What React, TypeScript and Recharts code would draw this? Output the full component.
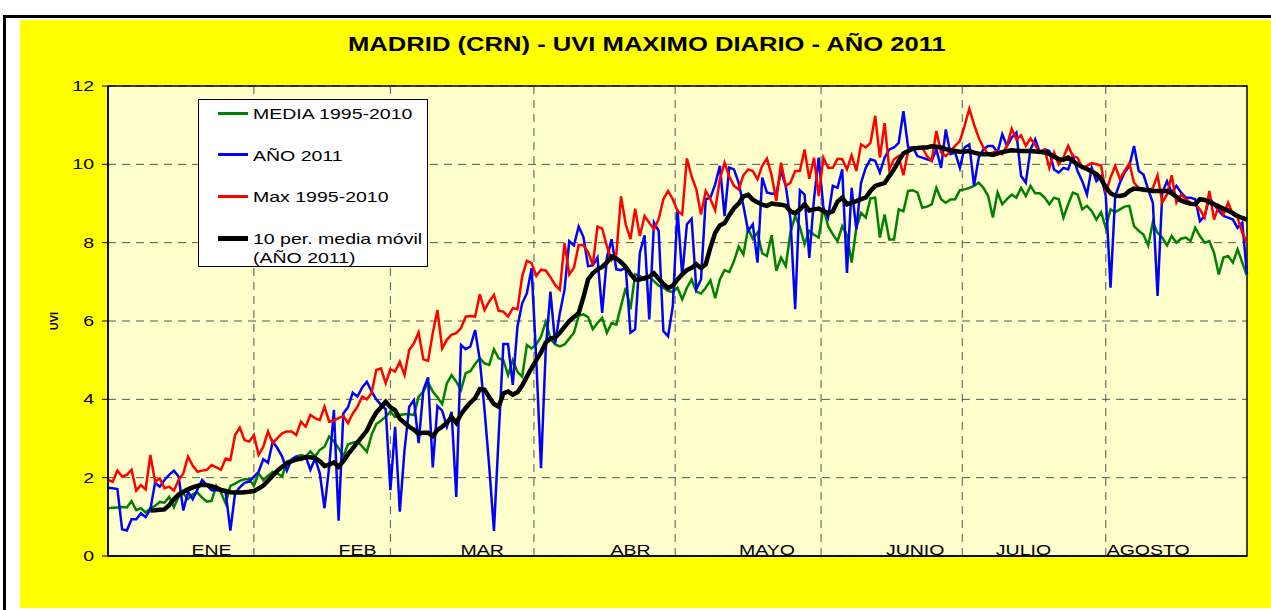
import { LineChart, Line, XAxis, YAxis, CartesianGrid, ReferenceLine, ReferenceArea, Legend } from "recharts"

// daily values, 1 Jan (day 0) .. 31 Aug (day 242)
const media = [
  1.22, 1.23, 1.24, 1.25, 1.24, 1.4, 1.17, 1.22, 1.11, 1.22, 1.28, 1.38, 1.36, 1.51, 1.25, 1.51, 1.6, 1.46, 1.58, 1.62,
  1.49, 1.39, 1.41, 1.79, 1.62, 1.34, 1.79, 1.85, 1.92, 1.96, 1.96, 1.79, 2.11, 1.94, 2.05, 2.15, 2.11, 2.03, 2.41, 2.45,
  2.54, 2.58, 2.54, 2.67, 2.54, 2.71, 2.79, 3.05, 2.92, 2.75, 2.55, 2.85, 2.89, 2.92, 2.8, 2.66, 3.09, 3.37, 3.45, 3.56,
  3.69, 3.55, 3.6, 3.62, 3.62, 3.6, 4.07, 4.2, 4.43, 4.2, 4.05, 3.88, 4.41, 4.62, 4.45, 4.24, 4.67, 4.72, 4.9, 5.05,
  4.92, 4.88, 5.28, 5.05, 5.0, 4.62, 5.0, 4.7, 4.58, 5.39, 5.3, 5.4, 5.6, 5.98, 5.55, 5.4, 5.35, 5.4, 5.55, 5.7,
  6.13, 6.17, 6.1, 5.79, 5.95, 6.08, 5.7, 5.95, 5.91, 6.38, 6.85, 6.3, 7.19, 7.15, 7.05, 7.13, 7.02, 6.9, 6.85, 6.77,
  6.74, 6.85, 6.55, 6.85, 7.06, 6.75, 6.7, 6.85, 7.04, 6.58, 7.06, 7.3, 7.25, 7.53, 7.9, 7.7, 8.36, 8.1, 8.26, 7.73,
  7.66, 8.19, 7.28, 7.62, 7.4, 8.26, 8.68, 8.4, 7.96, 8.3, 8.2, 8.13, 8.89, 8.42, 8.21, 8.04, 8.42, 8.2, 7.49, 8.38,
  8.76, 8.64, 9.13, 9.15, 8.13, 8.72, 8.08, 8.08, 8.85, 8.8, 9.32, 9.34, 9.28, 8.89, 8.92, 8.98, 9.4, 9.11, 9.02, 9.1,
  9.11, 9.34, 9.36, 9.4, 9.45, 9.53, 9.4, 9.19, 8.64, 9.28, 8.98, 9.11, 9.23, 9.15, 9.4, 9.19, 9.45, 9.26, 9.26, 9.15,
  8.98, 9.15, 9.11, 8.64, 8.98, 9.28, 9.23, 8.85, 8.94, 8.81, 8.59, 8.78, 8.38, 8.85, 8.78, 8.85, 8.92, 8.94, 8.42, 8.3,
  8.21, 7.93, 8.53, 8.25, 8.13, 7.93, 8.17, 8.0, 8.1, 8.13, 8.04, 8.38, 8.17, 8.0, 8.04, 7.74, 7.19, 7.62, 7.66, 7.49,
  7.83, 7.49, 7.15,
]

const anio2011 = [
  1.74, 1.73, 1.71, 0.68, 0.65, 0.94, 0.94, 1.09, 0.99, 1.19, 1.87, 1.77, 1.94, 2.07, 2.18, 2.03, 1.16, 1.64, 1.45, 1.7,
  1.94, 1.81, 1.68, 1.68, 1.67, 1.62, 0.65, 1.6, 1.75, 1.87, 1.9, 2.03, 2.15, 2.47, 2.38, 2.92, 2.75, 2.54, 2.18, 2.47,
  2.54, 2.45, 2.54, 2.2, 2.49, 2.11, 1.22, 2.28, 3.73, 0.9, 3.64, 3.8, 4.17, 4.07, 4.3, 4.45, 4.2, 4.0, 3.86, 3.75,
  1.68, 3.3, 1.13, 2.7, 3.81, 3.98, 2.88, 4.24, 4.56, 2.26, 3.83, 3.71, 3.3, 3.68, 1.51, 5.39, 5.28, 5.35, 5.77, 5.0,
  3.73, 2.28, 0.64, 3.05, 5.41, 5.41, 4.37, 5.86, 6.45, 6.71, 7.35, 5.0, 2.24, 5.26, 6.75, 5.43, 6.2, 6.8, 8.04, 7.93,
  8.41, 8.15, 7.4, 7.42, 7.62, 6.21, 7.62, 8.09, 7.32, 7.3, 7.36, 5.7, 5.79, 7.74, 8.19, 6.04, 8.51, 8.3, 5.74, 5.61,
  6.38, 8.85, 7.15, 8.47, 8.61, 6.81, 7.06, 9.11, 9.15, 9.49, 9.96, 8.68, 9.92, 9.87, 9.53, 8.94, 8.3, 8.47, 7.49, 9.66,
  9.28, 9.25, 9.26, 9.83, 9.45, 8.6, 6.3, 9.34, 9.23, 7.61, 9.11, 10.17, 8.89, 8.64, 9.45, 9.4, 9.87, 7.23, 9.4, 8.34,
  9.53, 9.91, 10.13, 10.09, 9.79, 10.17, 10.38, 10.43, 10.55, 11.36, 10.43, 10.43, 10.21, 10.17, 10.13, 10.09, 10.38, 9.91, 10.89, 10.26,
  10.3, 9.91, 10.43, 10.51, 9.46, 10.17, 10.38, 10.47, 10.47, 10.3, 10.77, 10.47, 10.68, 10.81, 9.7, 9.53, 10.38, 10.64, 10.3, 10.38,
  10.34, 9.87, 9.79, 9.91, 9.87, 10.21, 9.83, 9.57, 9.23, 9.91, 9.57, 9.7, 9.19, 6.85, 9.19, 9.53, 9.79, 9.96, 10.47, 9.83,
  9.74, 9.36, 9.02, 6.64, 9.28, 9.57, 9.28, 9.45, 9.28, 9.15, 9.15, 9.11, 8.55, 8.68, 9.15, 8.98, 8.81, 8.68, 8.64, 8.59,
  8.38, 8.51, 7.19,
]

const max9510 = [
  1.94, 1.9, 2.18, 2.03, 2.07, 2.2, 1.67, 1.81, 1.7, 2.58, 1.9, 1.98, 1.73, 1.77, 1.67, 1.94, 2.11, 2.54, 2.31, 2.15,
  2.18, 2.2, 2.32, 2.26, 2.2, 2.49, 2.45, 3.09, 3.28, 2.96, 2.92, 3.09, 2.58, 2.79, 3.18, 2.88, 3.01, 3.13, 3.18, 3.18,
  3.09, 3.43, 3.3, 3.6, 3.52, 3.47, 3.81, 3.43, 3.46, 3.52, 3.58, 3.39, 3.64, 3.81, 4.07, 4.0, 4.16, 4.75, 4.79, 4.41,
  4.77, 4.71, 4.96, 4.62, 5.26, 5.43, 5.71, 5.02, 4.98, 5.69, 6.28, 5.3, 5.52, 5.65, 5.69, 5.82, 6.11, 6.13, 6.11, 6.68,
  6.28, 6.5, 6.67, 6.26, 6.24, 6.11, 6.33, 6.3, 7.14, 7.54, 7.48, 7.15, 7.31, 7.29, 7.12, 6.92, 6.8, 7.99, 7.19, 7.36,
  7.94, 7.94, 7.76, 7.43, 8.41, 8.36, 7.91, 7.55, 7.7, 9.18, 8.47, 8.09, 8.87, 8.17, 8.68, 8.51, 8.34, 8.6, 9.11, 9.32,
  9.11, 8.81, 8.72, 10.15, 9.69, 9.36, 8.72, 9.32, 9.11, 8.83, 9.62, 10.04, 9.69, 9.45, 9.36, 9.72, 9.87, 9.83, 9.62, 9.96,
  10.15, 9.72, 9.06, 10.04, 9.45, 9.53, 9.83, 9.83, 10.38, 9.63, 10.17, 9.19, 10.17, 9.91, 9.91, 10.14, 10.13, 9.87, 10.23, 9.83,
  10.51, 10.43, 10.55, 11.24, 10.17, 11.05, 9.87, 10.13, 10.21, 9.72, 10.34, 10.43, 10.43, 10.43, 10.21, 10.09, 10.85, 10.3, 10.21, 10.34,
  10.47, 10.6, 10.98, 11.42, 11.02, 10.68, 10.43, 10.26, 10.3, 10.34, 10.26, 10.47, 10.91, 10.64, 10.74, 10.47, 10.66, 10.49, 10.3, 10.38,
  9.91, 10.3, 10.0, 10.17, 10.47, 10.21, 10.17, 9.91, 9.96, 10.03, 10.0, 9.97, 9.28, 9.66, 9.96, 9.62, 9.83, 10.03, 9.53, 9.4,
  9.32, 9.32, 9.4, 9.72, 9.02, 9.23, 9.72, 9.02, 9.23, 9.11, 9.02, 8.98, 8.85, 8.64, 9.32, 8.59, 8.94, 8.72, 9.02, 8.72,
  8.64, 8.25, 8.0,
]

// 10 day moving average, first value on day 9
const movilStart = 9
const movil2011 = [
  1.16, 1.17, 1.18, 1.19, 1.3, 1.45, 1.57, 1.64, 1.7, 1.75, 1.79, 1.82, 1.81, 1.78, 1.74, 1.69, 1.66, 1.63, 1.62, 1.62,
  1.63, 1.64, 1.66, 1.72, 1.8, 1.92, 2.05, 2.18, 2.28, 2.36, 2.42, 2.46, 2.49, 2.52, 2.52, 2.5, 2.42, 2.3, 2.33, 2.39,
  2.28, 2.42, 2.6, 2.75, 2.9, 3.05, 3.2, 3.45, 3.66, 3.8, 3.94, 3.8, 3.72, 3.5, 3.4, 3.3, 3.22, 3.12, 3.15, 3.15,
  3.06, 3.22, 3.3, 3.4, 3.55, 3.4, 3.62, 3.78, 3.92, 4.03, 4.26, 4.25, 4.05, 3.88, 3.81, 4.15, 4.2, 4.12, 4.18, 4.35,
  4.58, 4.8, 5.0, 5.2, 5.45, 5.55, 5.58, 5.7, 5.85, 6.0, 6.1, 6.2, 6.6, 7.06, 7.22, 7.32, 7.38, 7.5, 7.65, 7.6,
  7.5, 7.38, 7.2, 7.06, 7.06, 7.1, 7.13, 7.22, 7.08, 6.95, 6.84, 6.9, 7.06, 7.19, 7.3, 7.36, 7.45, 7.35, 7.45, 7.88,
  8.25, 8.44, 8.5, 8.7, 8.88, 9.0, 9.18, 9.22, 9.1, 9.03, 8.97, 8.94, 9.0, 8.98, 8.97, 8.94, 8.8, 8.75, 8.85, 8.98,
  8.82, 8.85, 8.87, 8.81, 8.75, 8.8, 9.05, 9.15, 8.98, 9.02, 9.06, 9.11, 9.15, 9.32, 9.45, 9.49, 9.52, 9.7, 9.87, 10.09,
  10.28, 10.34, 10.4, 10.42, 10.43, 10.43, 10.46, 10.45, 10.43, 10.39, 10.36, 10.34, 10.32, 10.33, 10.34, 10.3, 10.27, 10.26, 10.26, 10.24,
  10.28, 10.31, 10.34, 10.36, 10.35, 10.34, 10.34, 10.34, 10.33, 10.32, 10.3, 10.27, 10.2, 10.13, 10.12, 10.17, 10.08, 10.0, 9.93, 9.88,
  9.82, 9.75, 9.62, 9.42, 9.26, 9.2, 9.19, 9.22, 9.32, 9.38, 9.37, 9.36, 9.34, 9.32, 9.32, 9.32, 9.32, 9.26, 9.17, 9.07,
  9.03, 8.99, 8.98, 9.11, 9.09, 9.04, 8.98, 8.92, 8.87, 8.82, 8.75, 8.68, 8.63, 8.59,
]

const monthNames = ["ENE", "FEB", "MAR", "ABR", "MAYO", "JUNIO", "JULIO", "AGOSTO"]
const monthLabelDay = [22, 53, 79.5, 111, 140, 171.5, 194.5, 221]
const monthEdgeDay = [31, 60, 90.5, 120.5, 151.5, 181.5, 212]
const yTicks = [0, 2, 4, 6, 8, 10, 12]
const lastDay = 242
const legendOrder = ["media", "anio", "max", "movil"]

const data = media.map((m, i) => ({
  day: i,
  media: m,
  anio: anio2011[i],
  max: max9510[i],
  movil: i >= movilStart ? movil2011[i - movilStart] : null,
}))

const FONT = "Arial, 'Liberation Sans', sans-serif"
const SX = 1.3 // excel text looks horizontally stretched

function YTick({ x, y, payload }: any) {
  return (
    <text
      transform={`translate(${x},${y}) scale(${SX},1)`}
      textAnchor="end"
      dy={5}
      fontSize={15}
      fontFamily={FONT}
      fill="#000"
    >
      {payload.value}
    </text>
  )
}

const monthLabel = (name: string) => (props: any) => {
  const vb = props.viewBox
  return (
    <text
      transform={`translate(${vb.x},${vb.y + vb.height - 1}) scale(${SX},1)`}
      textAnchor="middle"
      fontSize={15}
      fontFamily={FONT}
      fill="#000"
    >
      {name}
    </text>
  )
}

function LegendBox({ payload }: any) {
  const items = [...(payload || [])].sort(
    (a: any, b: any) => legendOrder.indexOf(a.dataKey) - legendOrder.indexOf(b.dataKey)
  )
  return (
    <div
      style={{
        position: "relative",
        width: 230,
        height: 168,
        background: "#fff",
        border: "1px solid #000",
        boxSizing: "border-box",
        fontFamily: FONT,
        fontSize: 15,
      }}
    >
      {items.map((p: any, k: number) => {
        const cy = 13 + k * 41.7
        const thick = p.dataKey === "movil" ? 5 : 3
        return (
          <div key={p.value}>
            <div
              style={{
                position: "absolute",
                left: 19,
                top: cy - thick / 2,
                width: 30,
                height: thick,
                background: p.color,
              }}
            />
            <div
              style={{
                position: "absolute",
                left: 54,
                top: cy - 9,
                lineHeight: "19px",
                whiteSpace: "pre",
                transform: `scaleX(${SX})`,
                transformOrigin: "0 0",
                color: "#000",
              }}
            >
              {p.value}
            </div>
          </div>
        )
      })}
    </div>
  )
}

export default function App() {
  return (
    <div style={{ position: "absolute", left: 0, top: 0, width: 1271, height: 610, background: "#fff", overflow: "hidden" }}>
      <div
        style={{
          position: "absolute",
          left: 3,
          top: 15,
          width: 1300,
          height: 620,
          borderLeft: "3px solid #000",
          borderTop: "3px solid #000",
        }}
      />
      <div style={{ position: "absolute", left: 20, top: 20, width: 1260, height: 588, background: "#FFFF00" }} />
      <div
        style={{
          position: "absolute",
          left: 348,
          top: 33,
          fontFamily: FONT,
          fontWeight: "bold",
          fontSize: 20,
          lineHeight: "23px",
          whiteSpace: "nowrap",
          transform: "scaleX(1.28)",
          transformOrigin: "0 0",
          color: "#000",
        }}
      >
        MADRID (CRN) - UVI MAXIMO DIARIO - AÑO 2011
      </div>
      <div style={{ position: "absolute", left: 0, top: 0 }}>
        <LineChart width={1271} height={610} data={data} margin={{ top: 86, right: 24, bottom: 0, left: 0 }}>
          <CartesianGrid vertical={false} fill="#FFFFCC" stroke="#555" strokeDasharray="8 6" />
          {monthEdgeDay.map((d) => (
            <ReferenceLine key={"e" + d} x={d} stroke="#555" strokeDasharray="8 6" />
          ))}
          {monthLabelDay.map((d, k) => (
            <ReferenceLine key={"m" + d} x={d} stroke="none" label={monthLabel(monthNames[k])} />
          ))}
          <XAxis
            type="number"
            dataKey="day"
            domain={[0, lastDay]}
            ticks={monthEdgeDay}
            tick={false}
            tickSize={5}
            height={54}
            stroke="#000"
            axisLine={{ stroke: "#000", strokeWidth: 1.5 }}
          />
          <YAxis
            type="number"
            domain={[0, 12]}
            ticks={yTicks}
            width={108}
            tickSize={6}
            tickMargin={8}
            tick={<YTick />}
            stroke="#000"
            axisLine={{ stroke: "#000", strokeWidth: 1.5 }}
            label={{ value: "UVI", angle: -90, position: "center", fontSize: 11, fontWeight: "bold", fill: "#000", fontFamily: FONT }}
          />
          <ReferenceArea x1={0} x2={lastDay} y1={0} y2={12} fill="none" stroke="#000" strokeWidth={1.5} />
          <Legend
            layout="vertical"
            align="center"
            verticalAlign="middle"
            wrapperStyle={{ left: 198, top: 99, width: 230, height: 168 }}
            content={<LegendBox />}
          />
          <Line type="linear" dataKey="media" name="MEDIA 1995-2010" stroke="#008000" strokeWidth={2.5} dot={false} activeDot={false} isAnimationActive={false} />
          <Line type="linear" dataKey="anio" name="AÑO 2011" stroke="#0000FF" strokeWidth={2.5} dot={false} activeDot={false} isAnimationActive={false} />
          <Line type="linear" dataKey="max" name="Max 1995-2010" stroke="#FF0000" strokeWidth={2.5} dot={false} activeDot={false} isAnimationActive={false} />
          <Line
            type="linear"
            dataKey="movil"
            name={"10 per. media móvil\n(AÑO 2011)"}
            stroke="#000000"
            strokeWidth={4.5}
            dot={false}
            activeDot={false}
            isAnimationActive={false}
          />
        </LineChart>
      </div>
    </div>
  )
}
